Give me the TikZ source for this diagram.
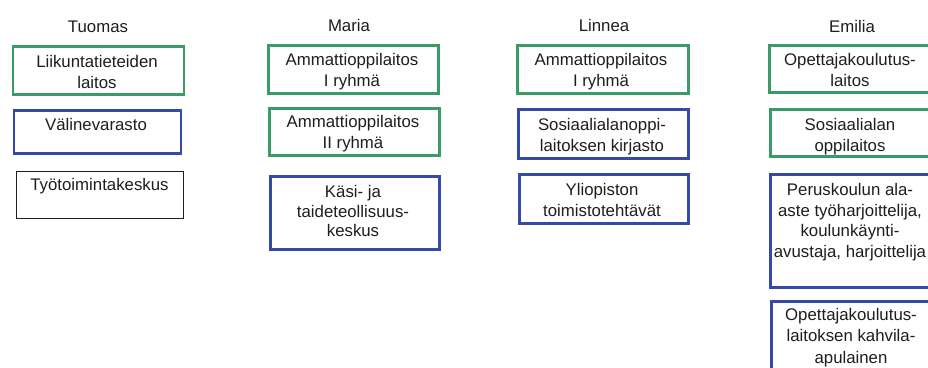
\documentclass[tikz,border=0pt]{standalone}
\usepackage{fontspec}
\setmainfont{Liberation Sans}
\definecolor{boxgreen}{RGB}{60,154,102}
\definecolor{boxblue}{RGB}{52,74,164}
\definecolor{ink}{RGB}{30,30,30}
\tikzset{
  place/.style={line width=2.6pt, inner sep=0pt, anchor=north west},
  greenbox/.style={place, draw=boxgreen},
  bluebox/.style={place, draw=boxblue},
  plainbox/.style={place, draw=ink, line width=1.1pt},
  txt/.style={anchor=north, inner sep=0pt, align=center, text=ink,
    font=\fontsize{16.8}{20.8}\selectfont},
  head/.style={anchor=base, inner sep=0pt, text=ink,
    font=\fontsize{16.8}{20.8}\selectfont},
}
\begin{document}
\begin{tikzpicture}[x=1pt, y=-1pt]
  \useasboundingbox (0,0) rectangle (928,367);
  \clip (0,0) rectangle (928,367);
  \fill[white] (0,0) rectangle (928,367);

  % column headers
  \node[head] (hT) at (98,32) {Tuomas};
  \node[head] (hM) at (349,31) {Maria};
  \node[head] (hL) at (604,31) {Linnea};
  \node[head] (hE) at (852,32) {Emilia};

  % Tuomas
  \node[greenbox, minimum width=171pt, minimum height=48pt] (t1) at (11.5,45.3) {};
  \node[txt] (t1t) at (97,55) {Liikuntatieteiden\\laitos};
  \node[bluebox, minimum width=167pt, minimum height=43pt] (t2) at (12.5,109) {};
  \node[txt] (t2t) at (96,118) {Välinevarasto};
  \node[plainbox, minimum width=167pt, minimum height=47pt] (t3) at (16,171) {};
  \node[txt] (t3t) at (99.5,178) {Työtoimintakeskus};

  % Maria
  \node[greenbox, minimum width=170pt, minimum height=48pt] (m1) at (267,44.3) {};
  \node[txt] (m1t) at (352,53) {Ammattioppilaitos\\I ryhmä};
  \node[greenbox, minimum width=170pt, minimum height=47pt] (m2) at (268,107.3) {};
  \node[txt] (m2t) at (353,115) {Ammattioppilaitos\\II ryhmä};
  \node[bluebox, minimum width=169pt, minimum height=73pt] (m3) at (269,175.3) {};
  \node[txt, font=\fontsize{16.8}{19.8}\selectfont] (m3t) at (353,185) {Käsi- ja\\taideteollisuus-\\keskus};

  % Linnea
  \node[greenbox, minimum width=171pt, minimum height=48pt] (l1) at (516,44.3) {};
  \node[txt] (l1t) at (601,53) {Ammattioppilaitos\\I ryhmä};
  \node[bluebox, minimum width=170pt, minimum height=49pt] (l2) at (517,108.3) {};
  \node[txt] (l2t) at (602,118) {Sosiaalialanoppi-\\laitoksen kirjasto};
  \node[bluebox, minimum width=169pt, minimum height=49pt] (l3) at (518,173.3) {};
  \node[txt] (l3t) at (602,183) {Yliopiston\\toimistotehtävät};

  % Emilia
  \node[greenbox, minimum width=166pt, minimum height=47pt] (e1) at (768,44.3) {};
  \node[txt] (e1t) at (850,53) {Opettajakoulutus-\\laitos};
  \node[greenbox, minimum width=165pt, minimum height=47pt] (e2) at (769,108.3) {};
  \node[txt] (e2t) at (850,118) {Sosiaalialan\\oppilaitos};
  \node[bluebox, minimum width=165pt, minimum height=113pt] (e3) at (769,173.3) {};
  \node[txt] (e3t) at (850,183) {Peruskoulun ala-\\aste työharjoittelija,\\koulunkäynti-\\avustaja, harjoittelija};
  \node[bluebox, minimum width=165pt, minimum height=90pt] (e4) at (770,300.3) {};
  \node[txt, font=\fontsize{16.8}{21.5}\selectfont] (e4t) at (851,308) {Opettajakoulutus-\\laitoksen kahvila-\\apulainen};
\end{tikzpicture}
\end{document}
